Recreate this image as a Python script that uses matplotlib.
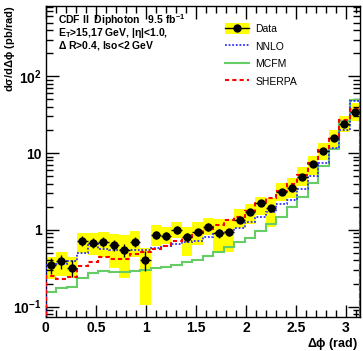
import numpy as np
import matplotlib
matplotlib.use("Agg")
import matplotlib.pyplot as plt
from matplotlib.patches import Patch, Rectangle
from matplotlib.lines import Line2D
from matplotlib.ticker import FixedLocator, FixedFormatter, LogLocator, NullFormatter, MultipleLocator

plt.rcParams['font.family'] = ['Liberation Sans', 'DejaVu Sans']
plt.rcParams['mathtext.fontset'] = 'custom'
plt.rcParams['mathtext.rm'] = 'Liberation Sans'
plt.rcParams['mathtext.bf'] = 'Liberation Sans:bold'
plt.rcParams['mathtext.it'] = 'Liberation Sans:italic'

# 30 bins in delta phi, 0..pi
nbins = 30
edges = np.linspace(0, np.pi, nbins + 1)

data = [0.35, 0.39, 0.32, 0.72, 0.68, 0.70, 0.63, 0.55, 0.70, 0.41,
        0.86, 0.84, 1.00, 0.80, 0.93, 1.10, 0.90, 0.93, 1.35, 1.73,
        2.27, 1.90, 3.10, 3.50, 4.95, 7.10, 10.6, 15.7, 24.0, 34.0]
stat_err = [0.08, 0.08, 0.08, 0.10, 0.10, 0.10, 0.10, 0.11, 0.11, 0.12,
            0.11, 0.11, 0.12, 0.11, 0.11, 0.13, 0.12, 0.11, 0.13, 0.15,
            0.18, 0.17, 0.22, 0.25, 0.30, 0.35, 0.5, 0.6, 0.9, 1.3]
syst_hi = [0.45, 0.51, 0.45, 0.90, 0.90, 0.93, 0.88, 0.86, 0.97, 0.58,
           1.15, 1.10, 1.26, 1.08, 1.28, 1.42, 1.40, 1.40, 1.88, 2.20,
           2.70, 2.60, 4.06, 4.70, 6.60, 9.20, 13.6, 20.2, 30.0, 45.0]
syst_lo = [0.23, 0.25, 0.235, 0.50, 0.47, 0.45, 0.32, 0.235, 0.45, 0.105,
           0.62, 0.65, 0.78, 0.46, 0.64, 0.86, 0.52, 0.52, 1.05, 1.18,
           1.57, 1.08, 2.34, 2.60, 3.75, 5.20, 8.15, 11.7, 19.0, 26.0]

nnlo = [0.35, 0.36, 0.39, 0.50, 0.66, 0.56, 0.55, 0.54, 0.55, 0.55,
        0.58, 0.62, 0.65, 0.70, 0.72, 0.80, 0.90, 0.93, 1.06, 1.28,
        1.49, 1.73, 2.18, 2.45, 3.40, 5.00, 7.40, 11.6, 20.0, 48.0]
mcfm = [0.154, 0.177, 0.183, 0.239, 0.278, 0.29, 0.28, 0.286, 0.292, 0.30,
        0.316, 0.33, 0.35, 0.38, 0.41, 0.455, 0.51, 0.595, 0.69, 0.79,
        0.97, 1.20, 1.49, 2.00, 2.70, 4.10, 6.70, 11.2, 25.8, 49.0]
sherpa = [0.25, 0.23, 0.24, 0.34, 0.38, 0.45, 0.42, 0.42, 0.48, 0.52,
          0.57, 0.62, 0.72, 0.80, 0.92, 1.02, 1.17, 1.36, 1.49, 1.76,
          2.30, 2.60, 3.20, 3.90, 5.20, 7.50, 11.0, 16.2, 26.6, 38.0]

centers = 0.5 * (edges[:-1] + edges[1:])
width = edges[1] - edges[0]

fig = plt.figure(figsize=(3.63, 3.51), dpi=100)
ax = fig.add_axes([0.126, 0.097, 0.866, 0.887])

# systematic uncertainty boxes
for i in range(nbins):
    ax.add_patch(Rectangle((edges[i], syst_lo[i]), width, syst_hi[i] - syst_lo[i],
                           facecolor='#ffff00', edgecolor='none', zorder=1))

ax.stairs(mcfm, edges, color='#66cc66', lw=1.5, zorder=2)
ax.stairs(nnlo, edges, color='#3030ff', lw=1.3, ls=(0, (1, 1)), zorder=3)
ax.stairs(sherpa, edges, color='#ff0000', lw=1.5, ls=(0, (2, 1.5)), zorder=4)

ax.errorbar(centers, data, xerr=width / 2, yerr=stat_err, fmt='o', color='black',
            ms=5, elinewidth=1.0, capsize=0, zorder=5)

ax.set_yscale('log')
ax.set_xlim(0, np.pi)
ax.set_ylim(0.0735, 830)

ax.xaxis.set_minor_locator(MultipleLocator(0.1))
ax.xaxis.set_major_locator(FixedLocator([0, 0.5, 1, 1.5, 2, 2.5, 3]))
ax.xaxis.set_major_formatter(FixedFormatter(['0', '0.5', '1', '1.5', '2', '2.5', '3']))

ax.yaxis.set_major_locator(FixedLocator([0.1, 1, 10, 100]))
ax.yaxis.set_major_formatter(FixedFormatter([r'$\mathbf{10^{-1}}$', '1', '10', r'$\mathbf{10^{2}}$']))
ax.yaxis.set_minor_locator(LogLocator(base=10, subs=np.arange(2, 10), numticks=20))
ax.yaxis.set_minor_formatter(NullFormatter())

ax.tick_params(which='both', direction='in', top=True, right=True, width=1.0)
ax.tick_params(which='major', length=9, labelsize=10, pad=3)
ax.tick_params(which='minor', length=5)
for lab in ax.get_xticklabels() + ax.get_yticklabels():
    lab.set_fontweight('bold')
for s in ax.spines.values():
    s.set_linewidth(1.0)

ax.set_ylabel(r'd$\mathbf{\sigma}$/d$\mathbf{\Delta\phi}$ (pb/rad)', fontsize=8,
              fontweight='bold', loc='top')
ax.yaxis.set_label_coords(-0.09, 1.0)
ax.set_xlabel(r'$\mathbf{\Delta\phi}$ (rad)', fontsize=9, fontweight='bold', loc='right')
ax.xaxis.set_label_coords(0.995, -0.06)

fig.text(58 / 363, 1 - 24.5 / 351, r'CDF II  Diphoton   9.5 fb$^{\mathbf{-1}}$',
         fontsize=7.5, fontweight='bold', va='baseline')
fig.text(58 / 363, 1 - 36.5 / 351, r'E$_{\mathbf{T}}$>15,17 GeV, |$\mathbf{\eta}$|<1.0,',
         fontsize=7.5, fontweight='bold', va='baseline')
fig.text(58 / 363, 1 - 49 / 351, r'$\mathbf{\Delta}$ R>0.4, Iso<2 GeV',
         fontsize=7.5, fontweight='bold', va='baseline')

handles = [(Patch(facecolor='#ffff00', edgecolor='none'),
            Line2D([], [], color='black', marker='o', ms=5, lw=1.0)),
           Line2D([], [], color='#3030ff', lw=1.3, ls=(0, (1, 1))),
           Line2D([], [], color='#66cc66', lw=1.5),
           Line2D([], [], color='#ff0000', lw=1.5, ls=(0, (2, 1.5)))]
ax.legend(handles, ['Data', 'NNLO', 'MCFM', 'SHERPA'], loc='upper left',
          bbox_to_anchor=(225 / 363, 1 - 23 / 351), bbox_transform=fig.transFigure,
          frameon=False, fontsize=7.5, handlelength=2.3, handleheight=1.3,
          labelspacing=0.6, handletextpad=0.6, borderpad=0, borderaxespad=0)

fig.savefig('out.png', dpi=100)
